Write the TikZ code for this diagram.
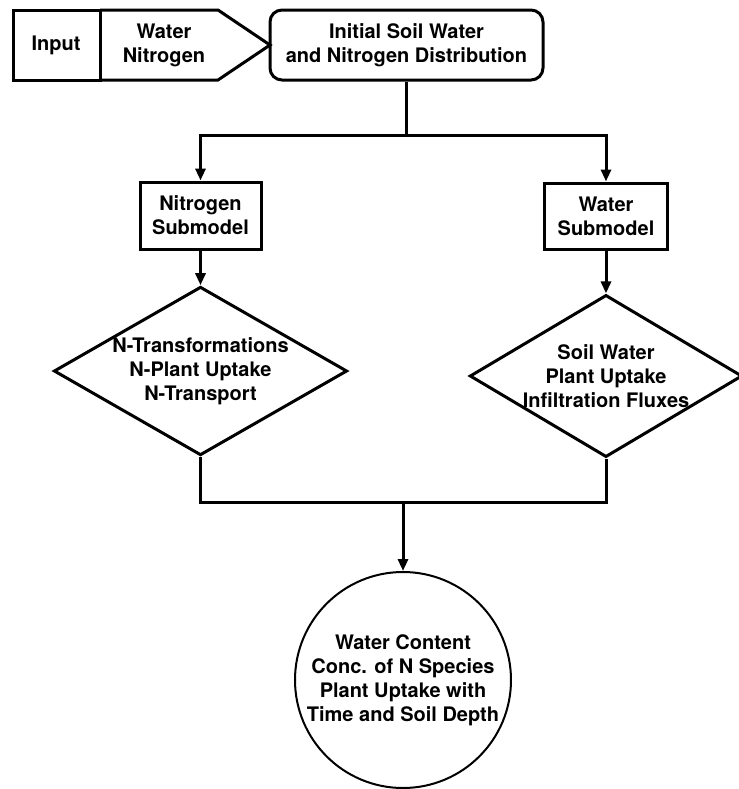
\documentclass[tikz,border=0pt]{standalone}
\usepackage{fontspec}
\setmainfont{TeX Gyre Heros}
\usetikzlibrary{shapes.geometric,arrows.meta}
\begin{document}
\begin{tikzpicture}[x=0.5pt,y=-0.5pt,line width=1.5pt,font=\bfseries,
  >={Triangle[length=6pt,width=5pt]},
  blok/.style={draw,rectangle,align=center,inner sep=0pt},
  romb/.style={draw,diamond,align=center,inner sep=0pt}]
\useasboundingbox (0,0) rectangle (739,789);
%Вход
\draw (13,10) rectangle (100,80);
\draw (100,10)--(218,10)--(270,45)--(218,80)--(100,80);
\node (input) at (56,45) {Input};
\node[align=center] (vhod) at (164,45) {Water\\Nitrogen};
%Начальное распределение
\node[blok,rounded corners=6pt,minimum width=136.5pt,minimum height=35pt] (init) at (406.5,45) {Initial Soil Water\\and Nitrogen Distribution};
\coordinate (razv) at (406.5,135);
%Подмодели
\node[blok,minimum width=60.5pt,minimum height=33.5pt] (nsub) at (200.5,215.5) {Nitrogen\\Submodel};
\node[blok,minimum width=61.5pt,minimum height=33pt] (wsub) at (606,216) {Water\\Submodel};
\node[romb,aspect=1.74,minimum width=146pt,minimum height=84pt] (ndia) at (200.5,371) {N-Transformations\\N-Plant Uptake\\N-Transport};
\node[romb,aspect=1.68,minimum width=134pt,minimum height=81pt] (wdia) at (606,376) {Soil Water\\Plant Uptake\\Infiltration Fluxes};
%Результат
\coordinate (sbor) at (403,502);
\node[draw,circle,line width=1pt,align=center,inner sep=0pt,minimum size=108pt] (itog) at (403,680) {Water Content\\Conc. of N Species\\Plant Uptake with\\Time and Soil Depth};
%Связи
\draw (init.south) -- (razv);
\draw[->] (razv) -| (nsub.north);
\draw[->] (razv) -| (wsub.north);
\draw[->] (nsub) -- (ndia);
\draw[->] (wsub) -- (wdia);
\draw (ndia.south) |- (sbor) -| (wdia.south);
\draw[->] (sbor) -- (itog.north);
\end{tikzpicture}
\end{document}
